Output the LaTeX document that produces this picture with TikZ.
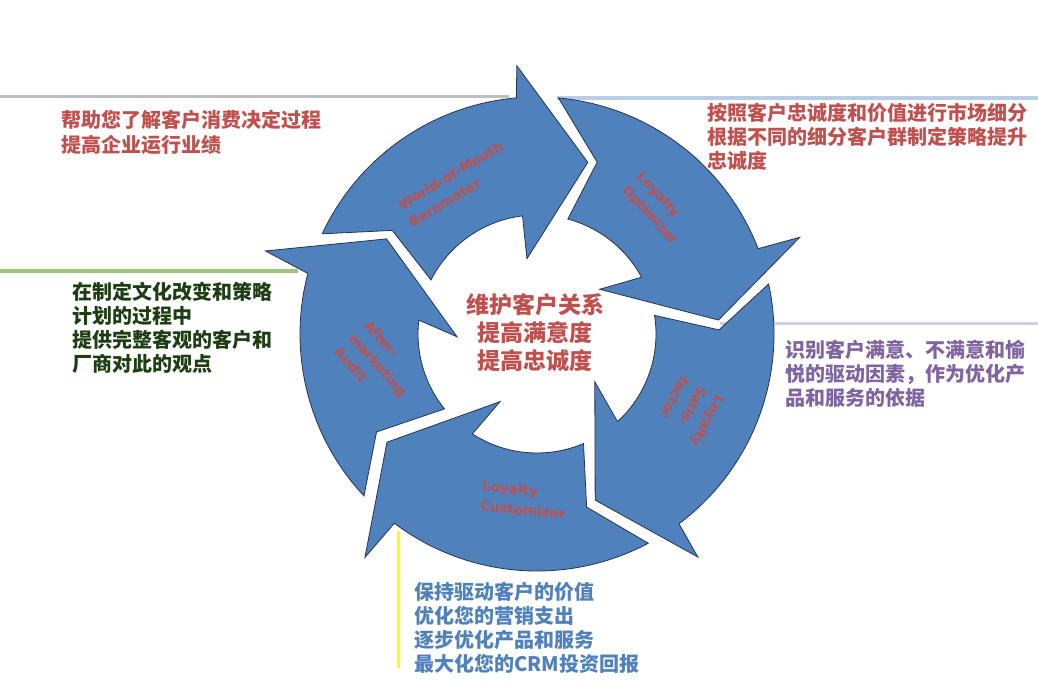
\documentclass[tikz,border=0pt]{standalone}
\usepackage{fontspec}
\newfontfamily\cjkfont{Noto Sans CJK SC}
\newfontfamily\labelfont{DejaVu Sans}

\definecolor{arrowblue}{RGB}{79,129,189}
\definecolor{arrowline}{RGB}{38,52,82}
\definecolor{textred}{RGB}{192,80,77}
\definecolor{textgreen}{RGB}{28,62,18}
\definecolor{textpurple}{RGB}{128,100,162}
\definecolor{textblue}{RGB}{79,129,189}
\definecolor{rulegray}{RGB}{190,190,190}
\definecolor{ruleblue}{RGB}{185,205,229}
\definecolor{rulegreen}{RGB}{155,200,125}
\definecolor{rulelilac}{RGB}{215,205,225}
\definecolor{ruleyellow}{RGB}{255,255,0}

\begin{document}
\begin{tikzpicture}[x=1pt, y=1pt,
  arrowbody/.style={fill=arrowblue, draw=arrowline, line width=0.8pt, line join=miter},
  arrowlabel/.style={text=textred, font=\labelfont\bfseries\fontsize{13.5}{20}\selectfont, align=left, inner sep=0pt},
  sidetext/.style={font=\cjkfont\bfseries\fontsize{20}{24}\selectfont, align=left, anchor=north west, inner sep=0pt},
  rule/.style={line width=3.5pt}]
\useasboundingbox (0,0) rectangle (1038,688);

\coordinate (grayleft) at (0,591.5);
\coordinate (grayright) at (509,591.5);
\coordinate (blueleft) at (557,590);
\coordinate (blueright) at (1038,590);
\coordinate (greenleft) at (0,417);
\coordinate (greenright) at (298,417);
\coordinate (lilacleft) at (720,364);
\coordinate (lilacright) at (1038,364);
\coordinate (yellowtop) at (398.5,157);
\coordinate (yellowbottom) at (398.5,20);
\draw[rule, rulegray] (grayleft) -- (grayright);
\draw[rule, ruleblue] (blueleft) -- (blueright);
\draw[rule, rulegreen] (greenleft) -- (greenright);
\draw[rule, rulelilac, line width=3pt] (lilacleft) -- (lilacright);
\draw[rule, ruleyellow] (yellowtop) -- (yellowbottom);

\begin{scope}[shift={(537,354)}]
\draw[arrowbody] (155:237pt) arc[start angle=155, end angle=95, radius=237pt] -- (94.3:269pt) -- (73.5:179pt) -- (97.6:76pt) -- (97:119pt) arc[start angle=97, end angle=153, radius=119pt] -- (144.4:178pt) -- cycle;
\draw[arrowbody] (84.8:237pt) arc[start angle=84.8, end angle=21.1, radius=237pt] -- (20.2:280pt) -- (4.4:182pt) -- (35.5:77pt) -- (28.5:119pt) arc[start angle=28.5, end angle=75, radius=119pt] -- (70.7:182pt) -- cycle;
\draw[arrowbody] (12.2:237pt) arc[start angle=12.2, end angle=-53.2, radius=237pt] -- (-54.2:275pt) -- (-70.7:176pt) -- (-39.6:75pt) -- (-47.4:119pt) arc[start angle=-47.4, end angle=9, radius=119pt] -- (1.3:182pt) -- cycle;
\draw[arrowbody] (-62:237pt) arc[start angle=-62, end angle=-127, radius=237pt] -- (-127.6:282pt) -- (-144.2:185pt) -- (-118.6:77pt) -- (-122.9:119pt) arc[start angle=-122.9, end angle=-67, radius=119pt] -- (-74:180pt) -- cycle;
\draw[arrowbody] (223.1:237pt) arc[start angle=223.1, end angle=165.2, radius=237pt] -- (163:284pt) -- (147.7:178pt) -- (182:80pt) -- (173.3:119pt) arc[start angle=173.3, end angle=219, radius=119pt] -- (211.4:188pt) -- cycle;
\end{scope}

\node[arrowlabel, rotate=31] (barometer) at (456,504) {World-of-Mouth\\Barometer};
\node[arrowlabel, rotate=-47] (optimizer) at (657,479) {Loyalty\\Optimizer};
\node[arrowlabel, rotate=-118] (satisfactor) at (690,276) {Loyalty\\Satis-\\factor};
\node[arrowlabel, rotate=-6] (customizer) at (524,188) {Loyalty\\Customizer};
\node[arrowlabel, rotate=-48] (audit) at (378,323) {After-\\marketing\\Audit};

\node[text=textred, font=\cjkfont\bfseries\fontsize{23}{28}\selectfont, align=center] (core) at (535,355) {维护客户关系\\提高满意度\\提高忠诚度};

\node[sidetext, text=textred, font=\cjkfont\bfseries\fontsize{20}{25}\selectfont] (barometertext) at (61,578) {帮助您了解客户消费决定过程\\提高企业运行业绩};
\node[sidetext, text=textred] (optimizertext) at (707,585) {按照客户忠诚度和价值进行市场细分\\根据不同的细分客户群制定策略提升\\忠诚度};
\node[sidetext, text=textpurple] (satisfactortext) at (785,348) {识别客户满意、不满意和愉\\悦的驱动因素，作为优化产\\品和服务的依据};
\node[sidetext, text=textblue] (customizertext) at (414,106) {保持驱动客户的价值\\优化您的营销支出\\逐步优化产品和服务\\最大化您的CRM投资回报};
\node[sidetext, text=textgreen] (audittext) at (72,406) {在制定文化改变和策略\\计划的过程中\\提供完整客观的客户和\\厂商对此的观点};
\end{tikzpicture}
\end{document}
